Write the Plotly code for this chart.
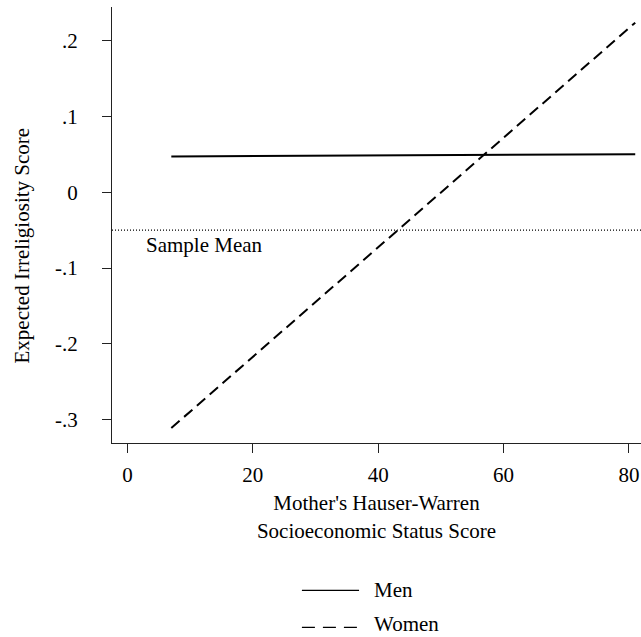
import plotly.graph_objects as go

# Data
ses_x = [7, 81]
men_y = [0.047, 0.050]
women_y = [-0.311, 0.2235]
sample_mean = -0.05
y_tickvals = [0.2, 0.1, 0.0, -0.1, -0.2, -0.3]
y_ticktext = [".2", ".1", "0", "-.1", "-.2", "-.3"]
x_tickvals = [0, 20, 40, 60, 80]
x_ticktext = ["0", "20", "40", "60", "80"]

FONT = "Liberation Serif, Times New Roman, serif"
FS = 21

fig = go.Figure()
fig.add_trace(go.Scatter(x=ses_x, y=men_y, mode="lines", name="Men",
                         line=dict(color="black", width=2), showlegend=False))
fig.add_trace(go.Scatter(x=ses_x, y=women_y, mode="lines", name="Women",
                         line=dict(color="black", width=2, dash="11px,6px"), showlegend=False))

fig.add_hline(y=sample_mean, line=dict(color="black", width=1.2, dash="1px,2px"))
fig.add_annotation(x=2.6, y=sample_mean - 0.0195, text="Sample Mean", showarrow=False,
                   xanchor="left", yanchor="middle", font=dict(size=FS, family=FONT, color="black"))

# Y-axis title (placed as annotation to match the reference's vertical offset)
fig.add_annotation(xref="paper", yref="paper", x=-0.171, y=0.452, text="Expected Irreligiosity Score",
                   textangle=-90, showarrow=False, xanchor="center", yanchor="middle",
                   font=dict(size=FS, family=FONT, color="black"))

# Manual legend
fig.add_shape(type="line", xref="paper", yref="paper", x0=0.359, x1=0.467, y0=-0.338, y1=-0.338,
              line=dict(color="black", width=1.3))
fig.add_shape(type="line", xref="paper", yref="paper", x0=0.359, x1=0.467, y0=-0.423, y1=-0.423,
              line=dict(color="black", width=1.3, dash="13px,8px"))
fig.add_annotation(xref="paper", yref="paper", x=0.491, y=-0.338, text="Men", showarrow=False,
                   xanchor="left", yanchor="middle", font=dict(size=FS, family=FONT, color="black"))
fig.add_annotation(xref="paper", yref="paper", x=0.491, y=-0.414, text="Women", showarrow=False,
                   xanchor="left", yanchor="middle", font=dict(size=FS, family=FONT, color="black"))

fig.update_layout(
    width=641, height=637,
    margin=dict(l=112, r=0, t=7, b=194),
    plot_bgcolor="white", paper_bgcolor="white",
    font=dict(family=FONT, size=FS, color="black"),
    showlegend=False,
)
fig.update_xaxes(range=[-2.46, 81.92], showgrid=False, zeroline=False, showline=True,
                 linecolor="#222", linewidth=1, ticks="outside", ticklen=9, tickcolor="#222",
                 tickvals=x_tickvals, ticktext=x_ticktext, tickfont=dict(size=FS),
                 ticklabelstandoff=4,
                 title=dict(text="Mother's Hauser-Warren<br>Socioeconomic Status Score",
                            font=dict(size=FS), standoff=9))
fig.update_yaxes(range=[-0.3307, 0.2441], showgrid=False, zeroline=False, showline=True,
                 linecolor="#222", linewidth=1, ticks="outside", ticklen=9, tickcolor="#222",
                 tickvals=y_tickvals, ticktext=y_ticktext, tickfont=dict(size=FS),
                 ticklabelstandoff=20)

fig.write_html("out.html", config={"displayModeBar": False},
               post_script="document.body.style.margin='0';document.body.style.overflow='hidden';")
